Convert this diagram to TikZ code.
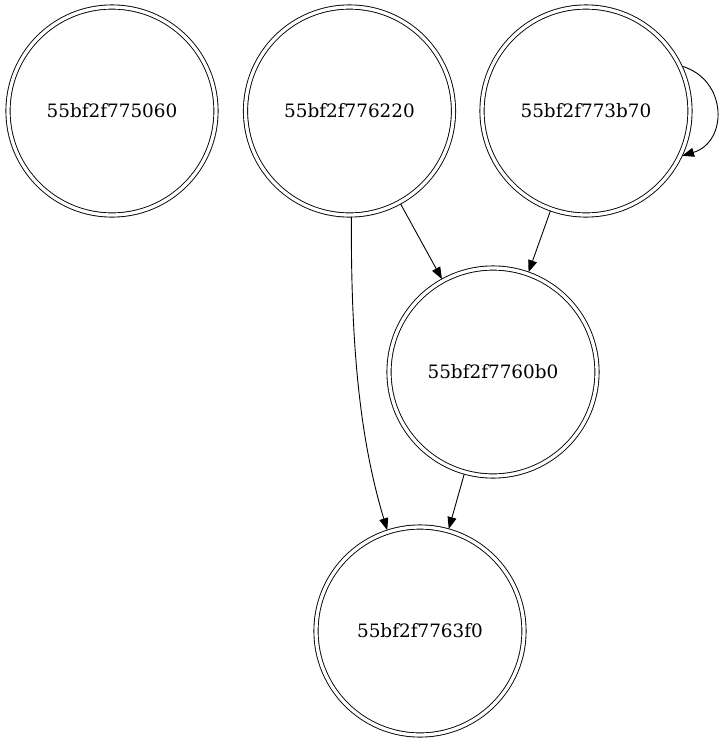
\documentclass[tikz,border=0pt]{standalone}
\usepackage{fontspec}
\setmainfont{DejaVu Serif}
\usetikzlibrary{arrows.meta}
\begin{document}
\begin{tikzpicture}[x=1pt,y=-1pt,
  state/.style={circle,draw,line width=0.9pt,double,double distance=3.3pt,
    minimum size=208pt,inner sep=0pt,outer sep=2pt,
    font=\fontsize{18.4pt}{22pt}\selectfont},
  edge/.style={line width=0.9pt,-{Triangle[length=12pt,width=9pt]}}]
\useasboundingbox (0,0) rectangle (723,740);
\node[state] (a) at (112,111) {55bf2f775060};
\node[state] (b) at (349.5,111) {55bf2f776220};
\node[state] (c) at (586,111) {55bf2f773b70};
\node[state] (d) at (493,372) {55bf2f7760b0};
\node[state] (e) at (420,631) {55bf2f7763f0};
\draw[edge] (c.25) .. controls (728,80) and (728,142) .. (c.-25);
\draw[edge] (b) -- (d);
\draw[edge] (c) -- (d);
\draw[edge] (b.-89) .. controls (351,330) and (357,430) .. (e.108);
\draw[edge] (d) -- (e);
\end{tikzpicture}
\end{document}
